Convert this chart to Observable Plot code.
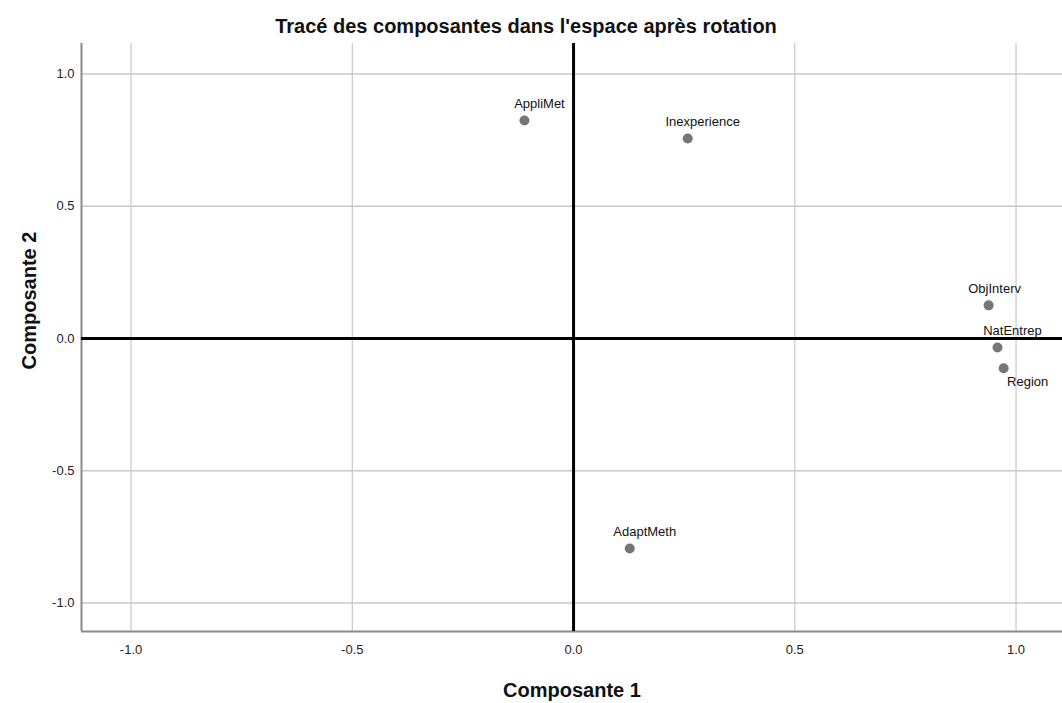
<!DOCTYPE html>
<html>
<head>
<meta charset="utf-8">
<script src="https://cdn.jsdelivr.net/npm/d3@7"></script>
<script src="https://cdn.jsdelivr.net/npm/@observablehq/plot@0.6"></script>
<style>
  html, body { margin: 0; padding: 0; background: #fff; }
  #wrap { position: relative; width: 1062px; height: 703px; font-family: "Liberation Sans", Arial, sans-serif; }
  #title { position: absolute; left: 0; top: 16px; width: 1052px; text-align: center; font-size: 20px; line-height: 20px; font-weight: bold; color: #111; }
  svg { display: block; }
</style>
</head>
<body>
<div id="wrap"><div id="title">Tracé des composantes dans l'espace après rotation</div></div>
<script>
// Data
const names = ["AppliMet", "Inexperience", "ObjInterv", "NatEntrep", "Region", "AdaptMeth"];
const comp1 = [-0.111, 0.258, 0.938, 0.958, 0.972, 0.127];
const comp2 = [0.824, 0.756, 0.125, -0.034, -0.113, -0.794];
const tickValues = [-1.0, -0.5, 0.0, 0.5, 1.0];
const xDomain = [-1.112, 1.105];
const yDomain = [-1.108, 1.115];
const xLabel = "Composante 1";
const yLabel = "Composante 2";

const points = names.map((n, i) => ({name: n, x: comp1[i], y: comp2[i]}));

// label placement (style only)
const labelDx = n => n === "ObjInterv" ? 6 : n === "Region" ? 24 : 15;
const labelDy = n => n === "Region" ? 14 : -17;

const fmt = d => d.toFixed(1);

const chart = Plot.plot({
  width: 1062,
  height: 703,
  marginTop: 43,
  marginBottom: 72,
  marginLeft: 81,
  marginRight: 0,
  style: {fontFamily: "'Liberation Sans', Arial, sans-serif", background: "#fff"},
  x: {domain: xDomain},
  y: {domain: yDomain},
  marks: [
    Plot.gridX(tickValues, {stroke: "#c8c8c8", strokeOpacity: 1, strokeWidth: 1.2}),
    Plot.gridY(tickValues, {stroke: "#c8c8c8", strokeOpacity: 1, strokeWidth: 1.5}),
    Plot.ruleX([xDomain[0]], {stroke: "#8a8a8a", strokeWidth: 2}),
    Plot.ruleY([yDomain[0]], {stroke: "#8a8a8a", strokeWidth: 2}),
    Plot.ruleX([0], {stroke: "#000", strokeWidth: 3}),
    Plot.ruleY([0], {stroke: "#000", strokeWidth: 3}),
    Plot.axisX(tickValues, {tickSize: 0, tickPadding: 13, tickFormat: fmt, fontSize: 13, fill: "#222", label: null}),
    Plot.axisY(tickValues, {tickSize: 0, tickPadding: 7, tickFormat: fmt, fontSize: 13, fill: "#222", label: null}),
    Plot.dot(points, {x: "x", y: "y", r: 5, fill: "#767676", stroke: "none"}),
    ...points.map(p => Plot.text([p], {x: "x", y: "y", text: "name", dx: labelDx(p.name), dy: labelDy(p.name), fontSize: 13, fill: "#111"})),
    Plot.text([xLabel], {text: d => d, frameAnchor: "bottom", lineAnchor: "middle", textAnchor: "middle", dy: 59, fontSize: 20, fontWeight: "bold", fill: "#111"}),
    Plot.text([yLabel], {text: d => d, frameAnchor: "left", lineAnchor: "middle", textAnchor: "middle", rotate: -90, dx: -52, dy: -37, fontSize: 20, fontWeight: "bold", fill: "#111"})
  ]
});
document.getElementById("wrap").appendChild(chart);
</script>
</body>
</html>
